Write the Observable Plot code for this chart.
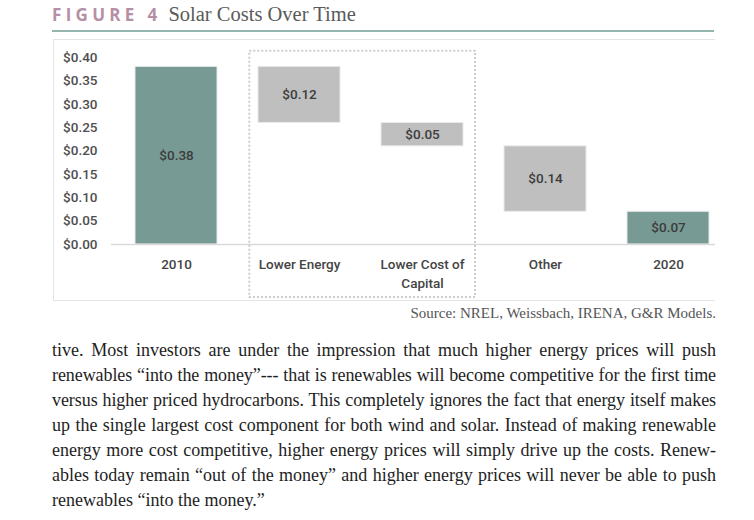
<!DOCTYPE html>
<html>
<head>
<meta charset="utf-8">
<script src="https://cdn.jsdelivr.net/npm/d3@7"></script>
<script src="https://cdn.jsdelivr.net/npm/@observablehq/plot@0.6"></script>
<style>
  html, body { margin: 0; padding: 0; background: #fff; }
  #page { position: relative; width: 754px; height: 520px; overflow: hidden; }
  #title { position: absolute; left: 52px; top: 0px; height: 28px; white-space: nowrap; line-height: 28px; }
  #title .fig { font-family: "Open Sans", sans-serif; font-weight: 700; font-size: 17px; letter-spacing: 4.3px; color: #b58fa6; }
  #title .name { font-family: "Liberation Serif", serif; font-size: 20.5px; color: #5a5a5a; margin-left: 7px; }
  #rule { position: absolute; left: 52px; top: 30px; width: 662px; height: 2px; background: #93b5ae; }
  #box { position: absolute; left: 53px; top: 39px; width: 662px; height: 262px; border-top: 1.5px solid #e4e4e4; border-left: 1.5px solid #e4e4e4; border-bottom: 1.5px solid #e4e4e4; box-sizing: border-box; }
  #chart { position: absolute; left: 0; top: 39px; }
  #source { position: absolute; right: 38px; top: 305px; font-family: "Liberation Serif", serif; font-size: 15px; color: #555; white-space: nowrap; }
  #body { position: absolute; left: 52px; top: 338px; width: 664px; font-family: "Liberation Serif", serif; font-size: 18px; line-height: 25px; color: #1e1e1e; }
  #body .ln { display: block; width: 664px; white-space: nowrap; text-align: justify; text-align-last: justify; }
  #body .ln.last { text-align-last: left; }
</style>
</head>
<body>
<div id="page">
  <div id="title"><span class="fig">FIGURE 4</span><span class="name">Solar Costs Over Time</span></div>
  <div id="rule"></div>
  <div id="box"></div>
  <div id="chart"></div>
  <div id="source">Source: NREL, Weissbach, IRENA, G&amp;R Models.</div>
  <div id="body"></div>
</div>
<script>
// ---- data ----
const categories = ["2010", "Lower Energy", "Lower Cost of Capital", "Other", "2020"];
const axisLabels = ["2010", "Lower Energy", "Lower Cost of\nCapital", "Other", "2020"];
const values = [0.38, 0.12, 0.05, 0.14, 0.07];
const kinds = ["total", "decrease", "decrease", "decrease", "total"];
const yTicks = [0, 0.05, 0.10, 0.15, 0.20, 0.25, 0.30, 0.35, 0.40];
const bodyLines = [
  "tive. Most investors are under the impression that much higher energy prices will push",
  "renewables \u201cinto the money\u201d--- that is renewables will become competitive for the first time",
  "versus higher priced hydrocarbons. This completely ignores the fact that energy itself makes",
  "up the single largest cost component for both wind and solar. Instead of making renewable",
  "energy more cost competitive, higher energy prices will simply drive up the costs. Renew-",
  "ables today remain \u201cout of the money\u201d and higher energy prices will never be able to push",
  "renewables \u201cinto the money.\u201d"
];

// waterfall table
let running = 0;
const rows = categories.map((c, i) => {
  let lo, hi;
  if (kinds[i] === "total") { lo = 0; hi = values[i]; running = values[i]; }
  else { hi = running; lo = running - values[i]; running = lo; }
  return { cat: c, label: axisLabels[i], v: values[i], kind: kinds[i], lo, hi };
});
const labelOf = new Map(categories.map((c, i) => [c, axisLabels[i]]));

const teal = "#779a94", grey = "#bfbfbf";

const plot = Plot.plot({
  width: 754,
  height: 263,
  marginLeft: 111,
  marginRight: 39,
  marginTop: 18,
  marginBottom: 58,
  style: { fontFamily: "Roboto, sans-serif", fontSize: "13.5px", fontWeight: 500, color: "#444", background: "transparent", overflow: "visible" },
  x: { domain: categories, paddingInner: 0.337, paddingOuter: 0.109, align: 0.78, label: null },
  y: { domain: [0, 0.4], label: null },
  marks: [
    Plot.barY(rows, { x: "cat", y1: "lo", y2: "hi", fill: d => d.kind === "total" ? teal : grey, stroke: "#e9e9e9", strokeWidth: 1 }),
    Plot.ruleY([0], { stroke: "#dadada", strokeWidth: 1.5 }),
    Plot.text(rows, { x: "cat", y: d => (d.lo + d.hi) / 2, text: d => "$" + d.v.toFixed(2), fill: "#3c3c3c", fontSize: 13.5 }),
    Plot.axisY({ ticks: yTicks, tickSize: 0, tickPadding: 14, tickFormat: d => "$" + d.toFixed(2), fontSize: 13.5, fill: "#4e4e4e", label: null }),
    Plot.axisX({ tickSize: 0, tickPadding: 11, tickFormat: d => labelOf.get(d), lineHeight: 1.4, fontSize: 13.5, fill: "#444", label: null })
  ]
});
document.getElementById("chart").appendChild(plot);

// dotted annotation box around the two energy/capital components
const xs = plot.scale("x"), ys = plot.scale("y");
const bw = xs.bandwidth;
const bx1 = xs.apply("Lower Energy") - 8.7;
const bx2 = xs.apply("Lower Cost of Capital") + bw + 12;
const by1 = ys.apply(0.4) - 6.3;
const by2 = 258;
d3.select(plot).append("rect")
  .attr("x", bx1).attr("y", by1)
  .attr("width", bx2 - bx1).attr("height", by2 - by1)
  .attr("fill", "none").attr("stroke", "#cccccc").attr("stroke-width", 2)
  .attr("stroke-dasharray", "2,2");

// body text, one justified line each
const body = document.getElementById("body");
bodyLines.forEach((t, i) => {
  const s = document.createElement("span");
  s.className = "ln" + (i === bodyLines.length - 1 ? " last" : "");
  s.textContent = t;
  body.appendChild(s);
});
// tighten letter-spacing for lines that are too wide
body.querySelectorAll(".ln").forEach(s => {
  const probe = document.createElement("span");
  probe.style.whiteSpace = "nowrap";
  probe.style.visibility = "hidden";
  probe.style.position = "absolute";
  probe.textContent = s.textContent;
  body.appendChild(probe);
  const w = probe.getBoundingClientRect().width;
  body.removeChild(probe);
  const target = 658;
  if (w > target) {
    s.style.letterSpacing = ((target - w) / s.textContent.length) + "px";
  }
});
</script>
</body>
</html>
